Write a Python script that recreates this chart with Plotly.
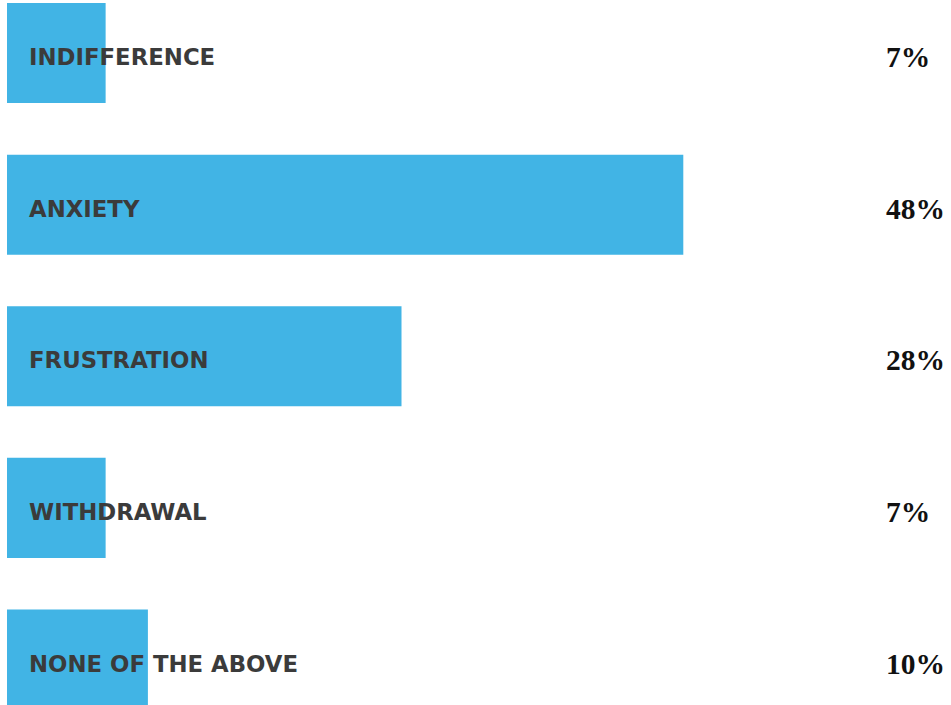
import plotly.graph_objects as go

categories = ["INDIFFERENCE", "ANXIETY", "FRUSTRATION", "WITHDRAWAL", "NONE OF THE ABOVE"]
values = [7, 48, 28, 7, 10]
value_labels = ["7%", "48%", "28%", "7%", "10%"]

BAR_COLOR = "#41b4e5"

fig = go.Figure(go.Bar(
    x=values,
    y=categories,
    orientation="h",
    marker=dict(color=BAR_COLOR, line=dict(width=0)),
    width=0.66,
    hoverinfo="skip",
))

annotations = []
for cat, lab in zip(categories, value_labels):
    annotations.append(dict(
        x=0, y=cat, xref="x", yref="y", text=cat, showarrow=False,
        xanchor="left", yanchor="middle", xshift=20, yshift=-4,
        font=dict(family="DejaVu Sans", size=22.8, color="#3b3b3b", weight="bold"),
    ))
    annotations.append(dict(
        x=(884 - 7) / 944, y=cat, xref="paper", yref="y", text=lab, showarrow=False,
        xanchor="left", yanchor="middle", yshift=-4,
        font=dict(family="Liberation Serif", size=29.5, color="#111111", weight="bold"),
    ))

fig.update_layout(
    width=951, height=705,
    margin=dict(l=7, r=0, t=0, b=0),
    paper_bgcolor="white", plot_bgcolor="white",
    showlegend=False,
    xaxis=dict(range=[0, 67], visible=False, fixedrange=True),
    yaxis=dict(range=[4.30, -0.35], visible=False, fixedrange=True),
    annotations=annotations,
)

fig.write_html(
    "out.html",
    config={"displayModeBar": False},
    post_script="document.body.style.margin='0';document.body.style.overflow='hidden';",
)
